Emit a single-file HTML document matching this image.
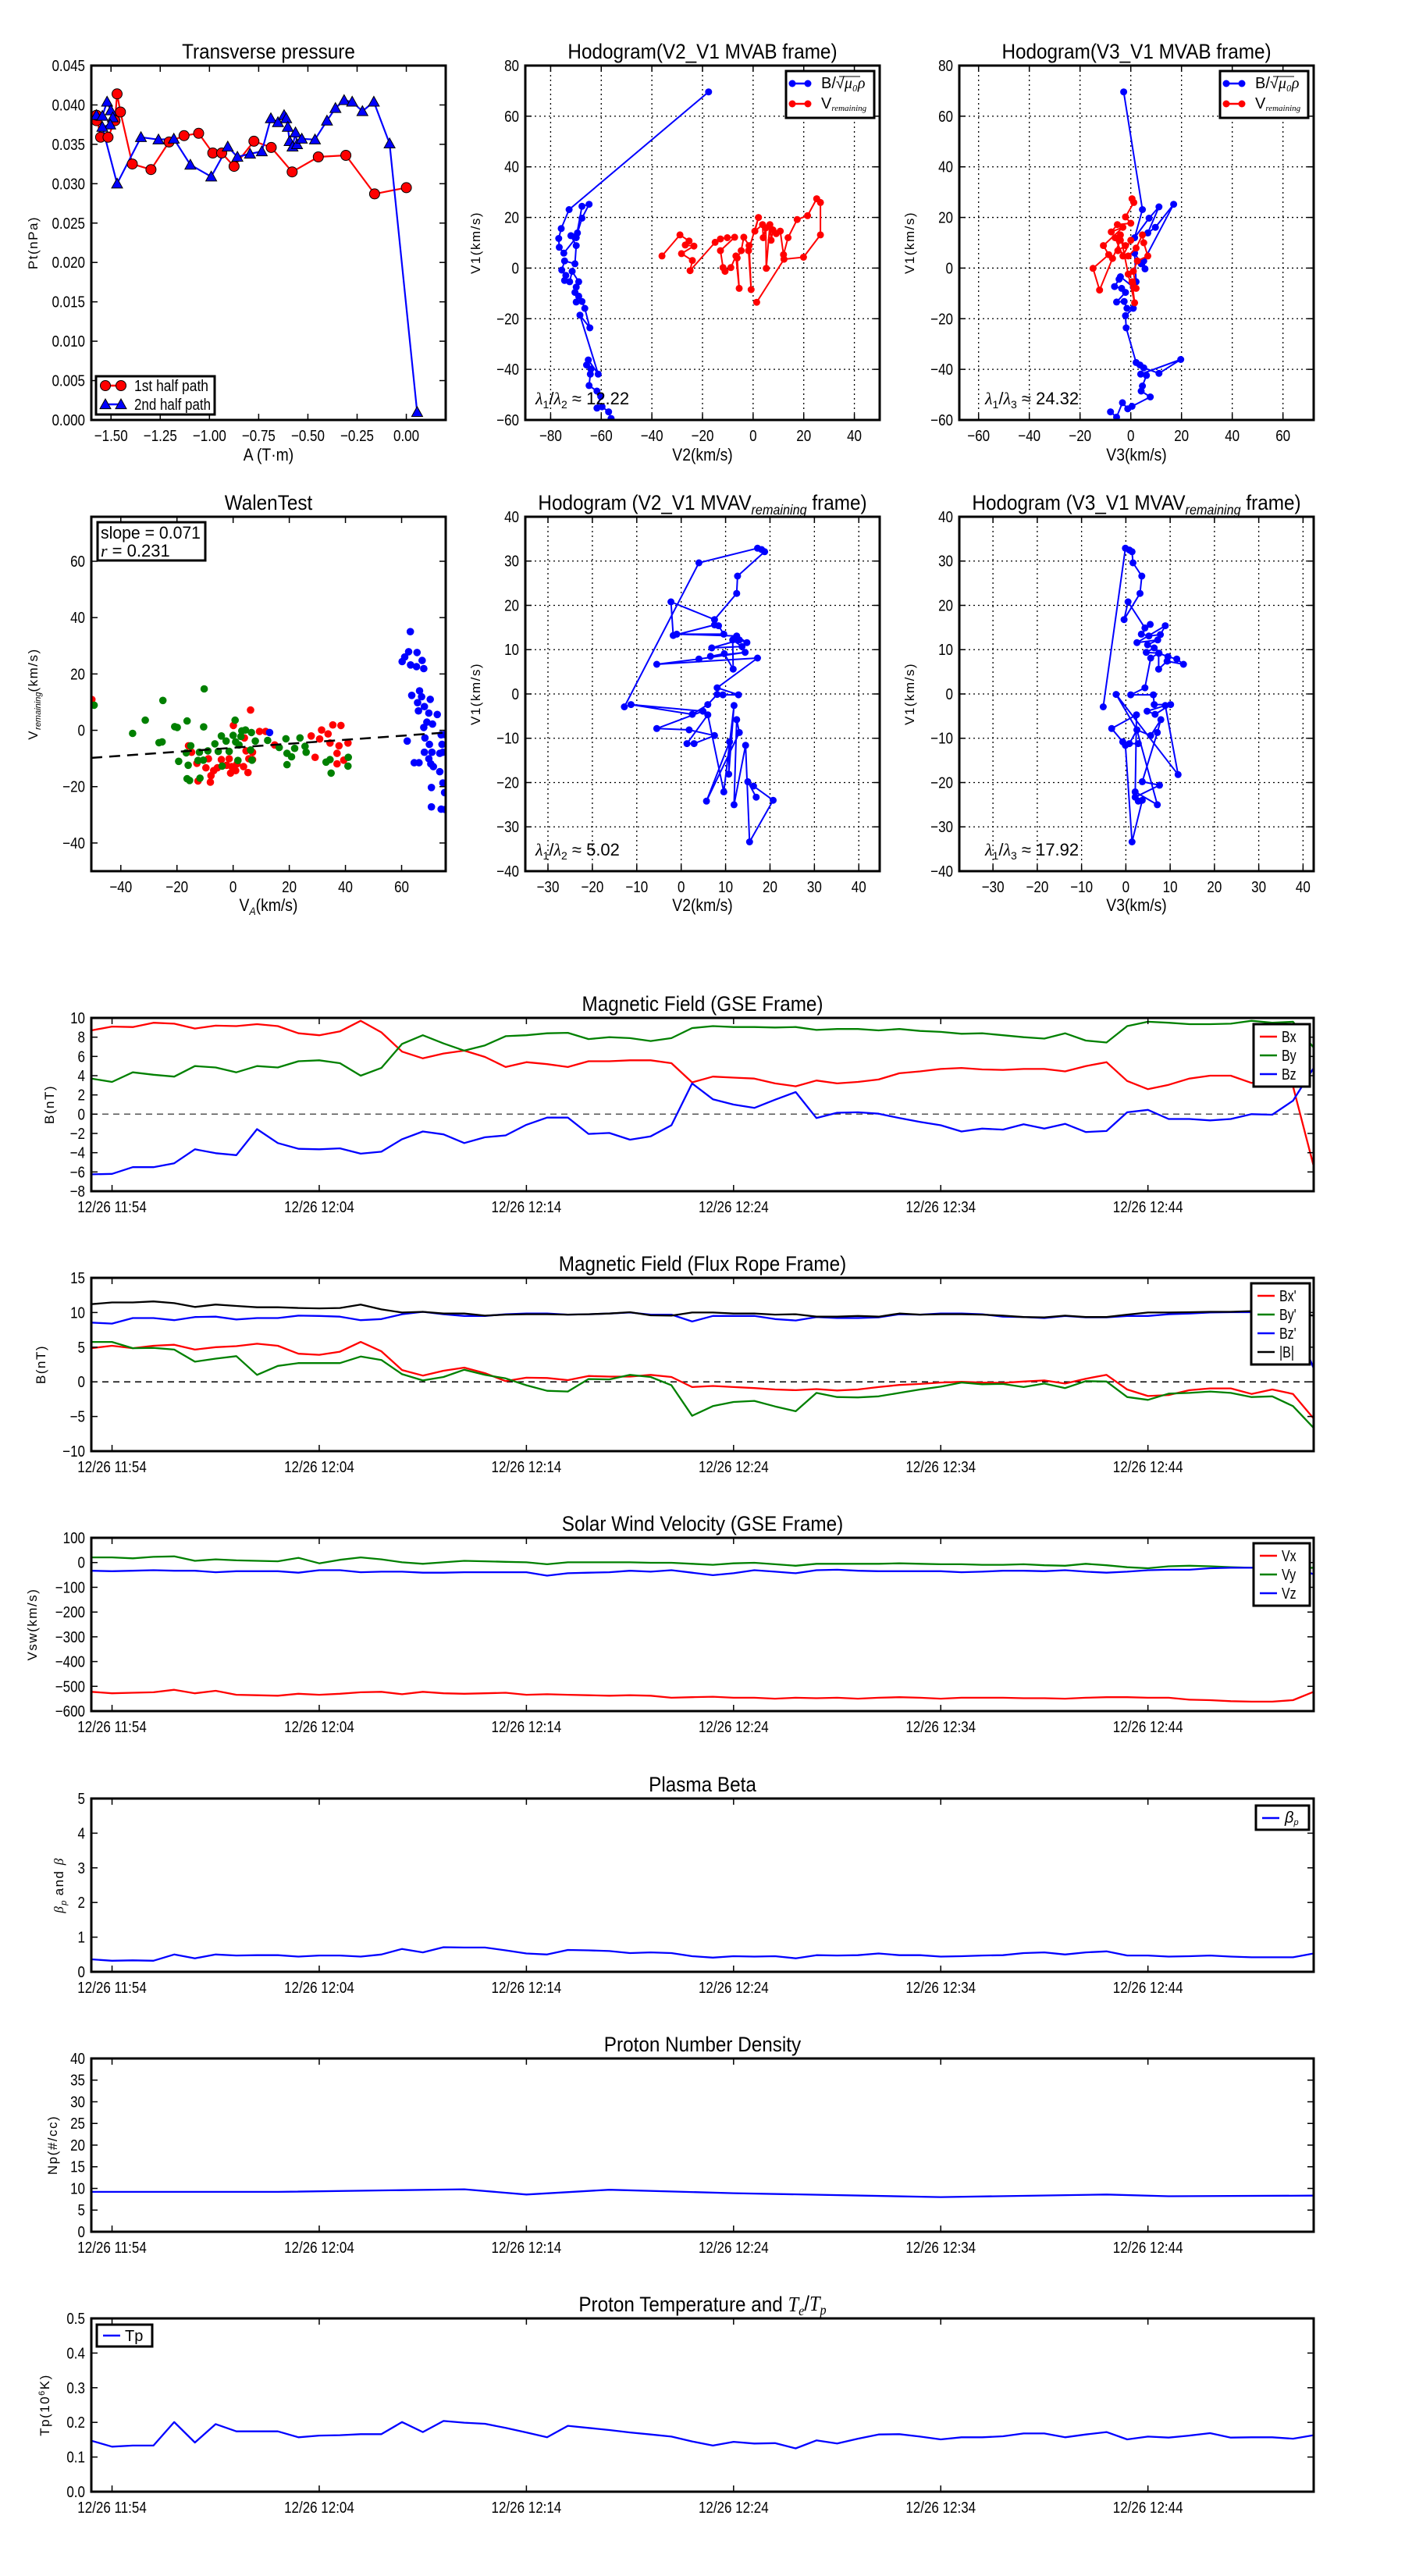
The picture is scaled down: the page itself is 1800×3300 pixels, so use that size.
<!DOCTYPE html>
<html><head><meta charset="utf-8">
<style>
html,body{margin:0;padding:0;background:#fff;}
svg{display:block;}
.tk{font-family:"Liberation Sans Narrow","Liberation Sans",sans-serif;font-size:20px;fill:#000;}
.tt{font-family:"Liberation Sans Narrow","Liberation Sans",sans-serif;font-size:27px;fill:#000;}
.yl{font-family:"Liberation Sans",sans-serif;font-size:17px;letter-spacing:1.5px;fill:#000;}
.xl{font-family:"Liberation Sans Narrow","Liberation Sans",sans-serif;font-size:22px;fill:#000;}
.lg{font-family:"Liberation Sans Narrow","Liberation Sans",sans-serif;font-size:20px;fill:#000;}
.an{font-family:"Liberation Sans","DejaVu Sans",sans-serif;font-size:22px;fill:#000;}
</style></head>
<body>
<svg id="fig" xmlns="http://www.w3.org/2000/svg" width="1800" height="3300" viewBox="0 0 1800 3300"></svg>
<script>
// ---------- Transverse pressure ----------
const ptRedA=[-1.574,-1.574,-1.553,-1.515,-1.480,-1.469,-1.452,-1.392,-1.297,-1.205,-1.129,-1.055,-0.983,-0.938,-0.875,-0.774,-0.686,-0.580,-0.447,-0.307,-0.161,0];
const ptRedP=[0.0380,0.0387,0.0359,0.0359,0.0380,0.0414,0.0391,0.0325,0.0318,0.0353,0.0361,0.0364,0.0339,0.0339,0.0322,0.0354,0.0346,0.0315,0.0334,0.0336,0.0287,0.0295];
const ptBlueA=[-1.574,-1.544,-1.520,-1.501,-1.491,-1.504,-1.544,-1.469,-1.348,-1.259,-1.181,-1.097,-0.991,-0.907,-0.858,-0.794,-0.734,-0.688,-0.652,-0.621,-0.610,-0.602,-0.593,-0.578,-0.563,-0.555,-0.531,-0.464,-0.403,-0.360,-0.316,-0.275,-0.223,-0.165,-0.085,0.055];
const ptBlueP=[0.0387,0.0386,0.0404,0.0393,0.0384,0.0375,0.0372,0.0300,0.0359,0.0356,0.0357,0.0324,0.0309,0.0347,0.0334,0.0338,0.0341,0.0383,0.0378,0.0387,0.0383,0.0372,0.0354,0.0347,0.0365,0.0350,0.0357,0.0356,0.0380,0.0396,0.0406,0.0404,0.0392,0.0404,0.0351,0.0010];
// ---------- Hodogram V2_V1 MVAB ----------
const h1BlueX=[-17.6,-72.7,-75.8,-76.8,-76.6,-74.8,-69.9,-67.6,-64.8,-67.6,-69.4,-72.0,-69.9,-70.4,-74.5,-75.6,-74.0,-74.5,-72.5,-71.5,-68.9,-69.9,-70.4,-68.9,-69.9,-67.6,-66.5,-64.5,-68.4,-61.2,-65.1,-65.8,-64.1,-64.3,-64.8,-61.7,-60.2,-61.7,-59.7,-57.1,-56.1];
const h1BlueY=[69.6,23.1,15.6,11.7,8.2,5.9,12.0,24.4,25.2,19.7,13.9,12.8,8.9,1.7,2.8,-0.8,-2.9,-4.9,-5.4,-1.3,-5.4,-7.5,-9.6,-11.1,-13.4,-13.2,-15.9,-23.6,-18.6,-41.9,-36.3,-38.3,-39.9,-41.9,-46.4,-48.6,-50.7,-55.3,-54.8,-56.8,-59.4];
const h1RedX=[-36.0,-28.9,-25.3,-26.8,-23.4,-28.3,-24.0,-24.9,-15.0,-12.9,-10.2,-7.3,-12.9,-11.9,-11.1,-8.8,-6.8,-5.5,-6.3,-4.7,-3.7,-1.6,-0.8,-1.8,2.1,0.7,3.7,4.0,5.0,5.2,6.6,7.1,7.8,9.1,10.7,12.0,13.8,17.4,21.5,25.1,26.6,26.6,19.9,12.2,1.4];
const h1RedY=[4.8,13.1,10.7,9.1,8.7,5.7,3.0,-1.0,10.2,11.5,12.0,12.2,6.9,0.2,-1.3,0.2,4.8,-8.0,4.0,6.9,12.2,8.9,-8.5,6.9,20.0,14.6,17.2,12.0,15.9,-0.1,17.2,11.0,15.1,13.6,14.6,5.3,12.0,19.2,20.7,27.4,25.9,13.1,4.3,3.5,-13.5];
// ---------- Hodogram V3_V1 MVAB ----------
const h2BlueX=[-2.8,4.6,1.5,7.2,11.1,6.7,9.7,16.9,5.1,5.6,4.1,1.5,2.1,1.0,-4.1,-4.6,-6.4,-3.6,-2.1,-5.6,-2.6,-1.5,1.0,-2.1,-1.8,2.1,3.6,5.1,11.1,19.7,3.9,6.2,4.6,4.1,7.7,0.5,-1.2,-3.3,-5.6,-8.0];
const h2BlueY=[69.6,23.1,12.0,19.7,24.2,13.9,16.1,25.2,2.8,-0.3,1.7,5.9,-5.4,-7.5,-3.4,-4.4,-7.3,-8.0,-9.6,-13.4,-13.2,-15.9,-15.9,-18.8,-23.6,-37.3,-38.3,-39.4,-41.6,-36.1,-41.9,-42.4,-46.6,-48.6,-50.9,-54.6,-55.6,-53.2,-58.9,-56.8];
const h2RedX=[0.5,1.2,-2.1,0,-5.3,-7.7,-3.1,-10.8,-8.7,-14.9,-12.3,-7.2,-4.1,-2.1,-5.1,-1.0,2.1,4.6,5.1,6.7,2.6,1.0,2.1,0.5,1.5,-1.0,-4.1,-6.2,-3.1,0];
const h2RedY=[27.4,25.9,20.2,17.7,17.2,14.3,16.1,8.9,5.3,-0.1,-8.7,3.8,11.0,8.9,6.9,4.8,7.9,13.1,10.0,4.8,2.8,-1.3,-8.0,-5.4,-13.7,-2.4,13.1,12.0,4.8,11.0];
// ---------- Walen test ----------
const wRedX=[-50.3,6.2,0.1,9.4,11.6,4.0,-15.9,-14.8,-12.9,-12.5,-9.7,-8.8,-7.9,-8.1,-6.9,-5.6,-4.2,-2.3,-1.4,-0.9,-0.5,0.9,1.4,3.7,5.3,4.6,6.9,5.6,6.9,14.8,27.8,29.2,30.8,31.5,33.8,34.5,35.5,37.0,37.7,37.0,38.4,39.4,40.9];
const wRedY=[10.9,7.2,1.7,-0.4,-0.4,-2.7,-5.5,-7.8,-11.7,-18.0,-13.3,-10.1,-16.1,-18.4,-14.3,-13.3,-10.4,-12.4,-10.1,-15.2,-12.9,-14.3,-11.9,-12.9,-15.0,-7.3,-7.8,-10.1,-10.4,-5.2,-2.0,-9.6,-3.1,0.1,-1.3,-4.5,1.9,-8.2,-5.5,-11.9,1.7,-10.6,-4.5];
const wGreenX=[-49.5,-35.8,-31.3,-25.0,-26.4,-25.3,-20.8,-19.9,-16.4,-10.3,-10.5,-19.4,-16.7,-15.1,-16.0,-16.4,-15.5,-11.8,-12.0,-12.5,-10.6,-9.0,-6.5,-5.3,-4.2,-3.9,-2.5,-1.4,0,0.7,0.9,1.7,3.1,4.4,2.8,2.1,6.5,6.2,6.7,7.9,12.3,16.4,18.8,19.2,20.8,19.2,21.9,23.8,25.6,26.0,33.1,34.5,34.9,41.0,40.9];
const wGreenY=[8.9,-1.1,3.6,10.6,-4.4,-4.1,1.3,1.0,3.3,14.7,1.2,-11.0,-8.0,-5.5,-12.4,-17.2,-17.8,-17.0,-7.8,-10.7,-10.6,-7.3,-4.8,-7.5,-2.0,-12.7,-3.8,-7.5,-1.8,3.6,-4.1,-10.7,-0.2,0.1,-2.2,-5.2,-0.8,-7.0,-10.6,-3.8,-3.6,-6.1,-3.0,-8.2,-9.4,-12.2,-6.4,-2.7,-5.7,-7.8,-11.3,-10.4,-15.2,-9.6,-12.7];
const wBlueX=[13.0,63.1,60.2,61.1,62.5,65.5,63.2,65.3,67.3,67.9,63.6,66.4,67.1,65.7,68.1,66.0,70.2,69.7,72.7,71.0,67.9,69.0,62.0,68.3,69.9,68.1,70.8,73.6,74.1,75.3,74.4,74.7,69.7,64.5,66.2,70.4,71.3,73.6,74.7,75.3,70.6,70.6,74.1,75.5];
const wBlueY=[-0.8,35.0,24.4,26.0,27.9,27.6,23.2,22.6,24.8,21.9,12.4,14.0,11.9,9.8,8.4,6.9,11.0,6.1,5.6,2.2,1.0,2.9,-3.8,-2.7,-5.0,-7.8,-7.8,-8.2,-1.6,-1.5,-5.0,-7.8,-10.1,-11.5,-11.5,-11.9,-12.9,-14.7,-18.7,-22.1,-20.3,-27.2,-28.0,-28.1];
const walenSlope=0.071, walenIntercept=-6.2;
// ---------- Hodogram MVAV ----------
const h3X=[-12.8,4.0,17.2,18.1,18.8,12.7,12.5,7.5,-2.3,-1.8,7.5,8.4,9.6,-1.0,12.5,14.8,13.1,6.9,13.7,11.6,11.7,9.7,6.6,14.4,4.0,-5.5,17.2,8.1,12.9,9.4,8.1,6.0,2.5,-11.3,4.9,-5.5,1.8,7.5,2.9,1.3,6.0,9.6,11.9,10.7,10.9,5.7,13.1,12.5,11.9,14.5,15.4,20.7,16.3,15.0,16.9];
const h3Y=[-2.9,29.6,32.9,32.6,32.1,26.6,22.7,16.8,20.8,13.2,15.6,15.4,13.5,13.5,13.1,11.6,12.2,10.4,10.7,12.2,5.6,9.1,8.5,9.4,7.9,6.7,8.1,1.4,-0.2,-0.2,-0.1,-2.4,-4.6,-2.4,-3.9,-7.8,-8.1,-9.4,-11.2,-11.2,-4.7,-22.1,-2.6,-18.1,-10.8,-24.2,-8.7,-5.8,-25.0,-11.6,-33.4,-24.0,-20.8,-19.8,-23.3];
const h4X=[-5.1,-0.1,0.8,1.4,1.6,3.6,3.2,-0.4,0.5,4.3,5.5,3.5,5.2,7.8,8.9,2.5,7.2,4.9,6.4,4.6,7.5,9.5,11.5,13.0,9.3,7.4,7.4,5.6,4.3,1.1,6.2,6.4,10.1,6.6,4.8,8.9,11.8,-2.2,2.5,5.6,7.9,7.1,3.7,7.6,2.1,2.4,-3.2,-0.7,-0.1,1.4,3.7,2.8,2.1,7.1,2.5,0.8,2.8];
const h4Y=[-2.9,32.9,32.5,32.1,29.6,26.6,22.7,16.8,20.8,14.9,15.7,13.5,13.1,13.4,15.4,11.6,12.2,11.1,10.4,9.4,9.2,8.4,7.9,6.7,7.4,5.6,9.2,8.1,1.4,-0.2,-0.2,-2.4,-2.4,-4.6,-3.9,-2.6,-18.2,-0.1,-8.1,-9.4,-5.8,-8.7,-19.8,-20.6,-23.3,-4.7,-7.8,-10.8,-11.6,-33.4,-24.0,-24.2,-22.1,-25.0,-8.1,-11.2,-11.2];
// ---------- Time series (minutes after 11:53) ----------
const timeTickMin=[1,11,21,31,41,51];
const timeTickLabels=["12/26 11:54","12/26 12:04","12/26 12:14","12/26 12:24","12/26 12:34","12/26 12:44"];
const gseBx=[8.7,9.1,9.05,9.5,9.4,8.9,9.2,9.15,9.35,9.15,8.4,8.2,8.6,9.7,8.5,6.5,5.8,6.3,6.6,5.95,4.9,5.4,5.2,4.9,5.5,5.5,5.6,5.6,5.3,3.3,3.9,3.8,3.7,3.2,2.9,3.5,3.2,3.35,3.6,4.25,4.45,4.7,4.8,4.65,4.6,4.7,4.7,4.45,5.0,5.4,3.45,2.6,3.05,3.7,4.0,4.0,3.25,3.6,2.9,-5.4];
const gseBy=[3.7,3.35,4.35,4.1,3.9,5.0,4.85,4.35,5.0,4.85,5.5,5.6,5.3,4.0,4.8,7.3,8.2,7.35,6.6,7.15,8.1,8.2,8.4,8.45,7.8,8.0,7.9,7.6,7.9,8.95,9.15,9.05,9.05,9.0,9.05,8.75,8.85,8.85,8.7,8.85,8.65,8.55,8.35,8.4,8.2,8.0,7.85,8.4,7.65,7.45,9.15,9.6,9.5,9.35,9.35,9.4,9.7,9.5,9.6,6.9];
const gseBz=[-6.25,-6.2,-5.5,-5.5,-5.1,-3.65,-4.05,-4.25,-1.55,-3.0,-3.6,-3.65,-3.55,-4.1,-3.9,-2.6,-1.8,-2.1,-3.0,-2.4,-2.2,-1.1,-0.35,-0.35,-2.05,-1.95,-2.65,-2.3,-1.15,3.2,1.55,1.0,0.65,1.5,2.3,-0.4,0.15,0.2,0.05,-0.4,-0.8,-1.15,-1.8,-1.5,-1.6,-1.05,-1.5,-1.0,-1.85,-1.75,0.2,0.45,-0.5,-0.5,-0.65,-0.5,0,-0.05,1.4,4.8];
const frBx=[4.85,5.2,4.85,5.2,5.35,4.65,5.0,5.15,5.5,5.2,4.05,3.9,4.35,5.75,4.4,1.7,0.9,1.6,2.05,1.25,0.1,0.6,0.55,0.25,0.85,0.75,0.75,1.0,0.7,-0.75,-0.6,-0.75,-0.9,-1.1,-1.2,-1.05,-1.25,-1.1,-0.75,-0.45,-0.3,-0.1,0,-0.1,-0.15,0.05,0.2,-0.25,0.45,1.0,-1.1,-2.05,-1.9,-1.2,-0.95,-0.95,-1.75,-1.1,-1.75,-5.3];
const frBy=[5.75,5.75,4.85,4.9,4.65,2.9,3.35,3.7,1.0,2.3,2.7,2.7,2.7,3.65,3.15,1.1,0.2,0.7,1.75,1.0,0.5,-0.5,-1.3,-1.4,0.4,0.35,1.0,0.7,-0.5,-4.9,-3.5,-2.9,-2.75,-3.55,-4.25,-1.6,-2.2,-2.25,-2.1,-1.6,-1.1,-0.7,-0.1,-0.35,-0.3,-0.75,-0.25,-0.9,0.1,0.05,-2.2,-2.6,-1.7,-1.6,-1.4,-1.6,-2.2,-2.1,-3.5,-6.65];
const frBz=[8.55,8.4,9.2,9.2,8.9,9.35,9.4,9.0,9.2,9.2,9.55,9.5,9.4,8.9,9.05,9.75,10.1,9.75,9.5,9.5,9.75,9.85,9.85,9.7,9.75,9.85,10.0,9.7,9.7,8.7,9.5,9.5,9.5,9.05,8.85,9.35,9.2,9.2,9.3,9.75,9.7,9.85,9.85,9.75,9.4,9.35,9.2,9.5,9.3,9.3,9.5,9.5,9.75,9.85,10.0,10.05,10.05,9.85,9.1,1.95];
const frBt=[11.2,11.45,11.45,11.6,11.35,10.8,11.15,10.95,10.75,10.75,10.65,10.6,10.65,11.15,10.45,10.0,10.1,9.85,9.85,9.55,9.7,9.75,9.75,9.7,9.75,9.85,10.05,9.6,9.55,10.0,10.0,9.85,9.85,9.7,9.75,9.4,9.4,9.5,9.4,9.85,9.7,9.75,9.75,9.7,9.55,9.35,9.3,9.55,9.35,9.35,9.7,10.0,10.0,10.05,10.1,10.1,10.2,10.1,9.85,9.55];
const vx=[-522,-528,-526,-524,-514,-528,-518,-534,-536,-538,-530,-534,-530,-524,-522,-532,-522,-528,-530,-528,-526,-534,-532,-534,-536,-538,-536,-538,-546,-544,-542,-546,-546,-550,-546,-548,-546,-550,-546,-544,-546,-550,-546,-546,-546,-548,-548,-550,-546,-544,-544,-546,-546,-554,-556,-560,-562,-562,-556,-522];
const vy=[21,21,17,23,25,7,13,9,7,5,19,-3,11,21,13,1,-5,1,7,5,3,1,-7,1,1,1,1,-1,-1,-5,-9,-3,-1,-7,-13,-5,-5,-5,-5,-3,-5,-7,-7,-9,-9,-7,-11,-13,-5,-11,-19,-23,-15,-13,-15,-19,-21,-21,-23,-21];
const vz=[-33,-35,-33,-31,-33,-33,-39,-35,-35,-35,-41,-31,-31,-39,-37,-37,-41,-41,-39,-39,-39,-39,-53,-43,-41,-39,-33,-37,-31,-41,-51,-43,-31,-37,-43,-31,-29,-33,-35,-35,-35,-35,-39,-37,-33,-33,-35,-31,-37,-41,-37,-31,-29,-29,-23,-21,-21,-21,-21,-47];
const betaP=[0.36,0.32,0.33,0.32,0.50,0.39,0.50,0.47,0.48,0.48,0.44,0.47,0.47,0.44,0.50,0.66,0.56,0.71,0.70,0.70,0.62,0.53,0.50,0.63,0.62,0.60,0.54,0.56,0.54,0.45,0.41,0.45,0.44,0.45,0.39,0.48,0.47,0.48,0.53,0.48,0.48,0.44,0.45,0.47,0.48,0.54,0.56,0.50,0.56,0.59,0.47,0.47,0.44,0.45,0.47,0.44,0.42,0.42,0.42,0.53];
const npMin=[0,9,18,21,25,31,41,49,52,59];
const npVal=[9.2,9.2,9.8,8.6,9.7,8.9,8.0,8.6,8.2,8.35];
const tp=[0.147,0.130,0.133,0.133,0.201,0.142,0.195,0.174,0.174,0.174,0.157,0.162,0.163,0.166,0.166,0.201,0.172,0.204,0.199,0.196,0.184,0.171,0.157,0.190,0.184,0.178,0.171,0.165,0.159,0.145,0.133,0.144,0.139,0.140,0.125,0.148,0.139,0.153,0.165,0.166,0.159,0.151,0.157,0.157,0.160,0.168,0.168,0.157,0.165,0.172,0.151,0.159,0.156,0.162,0.169,0.156,0.157,0.157,0.153,0.163];

const NS='http://www.w3.org/2000/svg';
const svg=document.getElementById('fig');
let clipN=0;
function mk(tag,parent){const e=document.createElementNS(NS,tag);parent.appendChild(e);return e;}
function txt(parent,x,y,s,cls,anchor){const t=mk('text',parent);t.setAttribute('x',x);t.setAttribute('y',y);t.setAttribute('class',cls);t.setAttribute('text-anchor',anchor||'middle');t.textContent=s;return t;}
function fmt(v,d){const s=Math.abs(v).toFixed(d);return (v<-1e-12?'\u2212':'')+s;}
function range(a,b,st){const r=[];for(let v=a;v<=b+st*1e-6;v+=st)r.push(+v.toFixed(6));return r;}
function squeeze(t,sx){ // horizontal condense around its x anchor
  const x=+t.getAttribute('x');t.setAttribute('transform','translate('+x+',0) scale('+sx+',1) translate('+(-x)+',0)');
}

function axes(o){
  const g=mk('g',svg);
  
  
  const sx=v=>o.x+(v-o.xmin)/(o.xmax-o.xmin)*o.w;
  const sy=v=>o.y+o.h-(v-o.ymin)/(o.ymax-o.ymin)*o.h;
  const id='c'+(clipN++);
  const cp=mk('clipPath',g);cp.setAttribute('id',id);
  const cr=mk('rect',cp);cr.setAttribute('x',o.x);cr.setAttribute('y',o.y);cr.setAttribute('width',o.w);cr.setAttribute('height',o.h);
  const xt=o.xticks||[], yt=o.yticks||[];
  if(o.grid){
    xt.forEach(v=>{const l=mk('line',g);l.setAttribute('x1',sx(v));l.setAttribute('x2',sx(v));l.setAttribute('y1',o.y);l.setAttribute('y2',o.y+o.h);l.setAttribute('stroke','#000');l.setAttribute('stroke-width','1.3');l.setAttribute('stroke-dasharray','2,4');});
    yt.forEach(v=>{const l=mk('line',g);l.setAttribute('y1',sy(v));l.setAttribute('y2',sy(v));l.setAttribute('x1',o.x);l.setAttribute('x2',o.x+o.w);l.setAttribute('stroke','#000');l.setAttribute('stroke-width','1.3');l.setAttribute('stroke-dasharray','2,4');});
  }
  const data=mk('g',g);data.setAttribute('clip-path','url(#'+id+')');
  
  
  xt.forEach((v,i)=>{
    [[o.y+o.h,o.y+o.h-8],[o.y,o.y+8]].forEach(p=>{const l=mk('line',g);l.setAttribute('x1',sx(v));l.setAttribute('x2',sx(v));l.setAttribute('y1',p[0]);l.setAttribute('y2',p[1]);l.setAttribute('stroke','#000');l.setAttribute('stroke-width','1.5');});
    const t=txt(g,sx(v),o.y+o.h+27,o.xlab[i],'tk');
    
    
    squeeze(t,0.85);
  });
  yt.forEach((v,i)=>{
    [[o.x,o.x+8],[o.x+o.w,o.x+o.w-8]].forEach(p=>{const l=mk('line',g);l.setAttribute('y1',sy(v));l.setAttribute('y2',sy(v));l.setAttribute('x1',p[0]);l.setAttribute('x2',p[1]);l.setAttribute('stroke','#000');l.setAttribute('stroke-width','1.5');});
    const t=txt(g,o.x-8,sy(v)+7,o.ylab[i],'tk','end');
    
    
    squeeze(t,0.85);
  });
  const fr=mk('rect',g);fr.setAttribute('x',o.x);fr.setAttribute('y',o.y);fr.setAttribute('width',o.w);fr.setAttribute('height',o.h);fr.setAttribute('fill','none');fr.setAttribute('stroke','#000');fr.setAttribute('stroke-width','3');
  return {g,data,sx,sy,o};
}
function title(ax,parts){
  const t=mk('text',ax.g);t.setAttribute('x',ax.o.x+ax.o.w/2);t.setAttribute('y',ax.o.y-9);t.setAttribute('class','tt');t.setAttribute('text-anchor','middle');
  
  
  parts.forEach(p=>{const s=mk('tspan',t);s.textContent=p[0];if(p[1]==='sub'){s.setAttribute('font-style','italic');s.setAttribute('font-size','18');s.setAttribute('dy','6');}else if(p[1]==='it'){s.setAttribute('font-style','italic');s.setAttribute('font-family','Liberation Serif, serif');}else if(p[1]==='back'){s.setAttribute('dy','-6');}else if(p[1]==='itsub'){s.setAttribute('font-style','italic');s.setAttribute('font-size','18');s.setAttribute('dy','5');s.setAttribute('font-family','Liberation Serif, serif');}else if(p[1]==='itback'){s.setAttribute('font-style','italic');s.setAttribute('dy','-5');s.setAttribute('font-family','Liberation Serif, serif');}});
  squeeze(t,0.9);
  return t;
}
function ylabel(ax,x,parts){
  const cy=ax.o.y+ax.o.h/2;
  const t=mk('text',ax.g);t.setAttribute('transform','translate('+x+','+cy+') rotate(-90)');t.setAttribute('class','yl');t.setAttribute('text-anchor','middle');t.setAttribute('x',0);t.setAttribute('y',6);
  
  
  parts.forEach(p=>{const s=mk('tspan',t);s.textContent=p[0];if(p[1]==='sub'){s.setAttribute('font-style','italic');s.setAttribute('font-size','11');s.setAttribute('dy','4');s.setAttribute('letter-spacing','0');}else if(p[1]==='back'){s.setAttribute('dy','-4');}else if(p[1]==='sup'){s.setAttribute('font-size','11');s.setAttribute('dy','-6');}else if(p[1]==='down'){s.setAttribute('dy','6');}else if(p[1]==='it'){s.setAttribute('font-style','italic');s.setAttribute('font-family','Liberation Serif, serif');}});
}
function xlabel(ax,y,parts){
  const t=mk('text',ax.g);t.setAttribute('x',ax.o.x+ax.o.w/2);t.setAttribute('y',y);t.setAttribute('class','xl');t.setAttribute('text-anchor','middle');
  
  
  parts.forEach(p=>{const s=mk('tspan',t);s.textContent=p[0];if(p[1]==='sub'){s.setAttribute('font-style','italic');s.setAttribute('font-size','14');s.setAttribute('dy','5');}else if(p[1]==='back'){s.setAttribute('dy','-5');}});
  squeeze(t,0.88);
}
function polyline(ax,xs,ys,color,w,name){
  const p=mk('polyline',ax.data);
  p.setAttribute('points',xs.map((v,i)=>ax.sx(v).toFixed(1)+','+ax.sy(ys[i]).toFixed(1)).join(' '));
  p.setAttribute('fill','none');p.setAttribute('stroke',color);p.setAttribute('stroke-width',w);p.setAttribute('stroke-linejoin','round');
  
  
  return p;
}
function dots(ax,xs,ys,color,r,name,stroke){
  xs.forEach((v,i)=>{
    const c=mk('circle',ax.data);c.setAttribute('cx',ax.sx(v).toFixed(1));c.setAttribute('cy',ax.sy(ys[i]).toFixed(1));c.setAttribute('r',r);c.setAttribute('fill',color);
    if(stroke){c.setAttribute('stroke','#000');c.setAttribute('stroke-width','1');}
    
    
  });
}
function tris(ax,xs,ys,color,s,name){
  xs.forEach((v,i)=>{
    const X=ax.sx(v),Y=ax.sy(ys[i]);
    const p=mk('polygon',ax.data);p.setAttribute('points',X+','+(Y-s)+' '+(X-s)+','+(Y+s*0.8)+' '+(X+s)+','+(Y+s*0.8));
    p.setAttribute('fill',color);p.setAttribute('stroke','#000');p.setAttribute('stroke-width','1');
    
    
  });
}
function box(parent,x,y,w,h,name){
  const r=mk('rect',parent);r.setAttribute('x',x);r.setAttribute('y',y);r.setAttribute('width',w);r.setAttribute('height',h);r.setAttribute('fill','#fff');r.setAttribute('stroke','#000');r.setAttribute('stroke-width','3');
  
  
}
function legLine(parent,x,y,len,color,mark){
  const l=mk('line',parent);l.setAttribute('x1',x);l.setAttribute('x2',x+len);l.setAttribute('y1',y);l.setAttribute('y2',y);l.setAttribute('stroke',color);l.setAttribute('stroke-width','2.5');
  
  
  if(mark==='dot'){[x,x+len].forEach(cx=>{const c=mk('circle',parent);c.setAttribute('cx',cx);c.setAttribute('cy',y);c.setAttribute('r',4.5);c.setAttribute('fill',color);});}
  if(mark==='bigdot'){[x,x+len].forEach(cx=>{const c=mk('circle',parent);c.setAttribute('cx',cx);c.setAttribute('cy',y);c.setAttribute('r',6.5);c.setAttribute('fill',color);c.setAttribute('stroke','#000');});}
  if(mark==='tri'){[x,x+len].forEach(cx=>{const p=mk('polygon',parent);p.setAttribute('points',cx+','+(y-7)+' '+(cx-7)+','+(y+5.6)+' '+(cx+7)+','+(y+5.6));p.setAttribute('fill',color);p.setAttribute('stroke','#000');});}
}
const R='#ff0000',G='#008000',B='#0000ff';

// ===== Panel 1: Transverse pressure =====
let ax=axes({name:'transverse-pressure-chart',x:117,y:84,w:454,h:454,xmin:-1.6,xmax:0.2,ymin:0,ymax:0.045,
  xticks:range(-1.5,0,0.25),xlab:range(-1.5,0,0.25).map(v=>fmt(v,2)),yticks:range(0,0.045,0.005),ylab:range(0,0.045,0.005).map(v=>fmt(v,3))});
title(ax,[['Transverse pressure']]);
ylabel(ax,42,[['Pt(nPa)']]);
xlabel(ax,590,[['A (T\u00b7m)']]);
polyline(ax,ptRedA,ptRedP,R,2.2,'first-half-path-line');
polyline(ax,ptBlueA,ptBlueP,B,2.2,'second-half-path-line');
dots(ax,ptRedA,ptRedP,R,6.5,'first-half-point',true);
tris(ax,ptBlueA,ptBlueP,B,7,'second-half-point');
box(ax.g,123,482,152,49,'legend');
legLine(ax.g,135,494,20,R,'bigdot');
{const t=txt(ax.g,172,501,'1st half path','lg','start');t.setAttribute('textLength','95');t.setAttribute('lengthAdjust','spacingAndGlyphs');}
legLine(ax.g,135,518,20,B,'tri');
{const t=txt(ax.g,172,525,'2nd half path','lg','start');t.setAttribute('textLength','98');t.setAttribute('lengthAdjust','spacingAndGlyphs');}

// hodogram legend helper
function hodoLegend(a,x){
  box(a.g,x,91,113,60,'legend');
  legLine(a.g,x+8,107,20,B,'dot');
  const t1=mk('text',a.g);t1.setAttribute('x',x+45);t1.setAttribute('y',113);t1.setAttribute('class','lg');t1.setAttribute('font-size','17');t1.textContent='B/\u221a';
  const t1b=mk('tspan',t1);t1b.setAttribute('font-style','italic');t1b.setAttribute('font-family','Liberation Serif, serif');t1b.textContent='\u03bc\u2080\u03c1';
  const ol=mk('line',a.g);ol.setAttribute('x1',x+68);ol.setAttribute('x2',x+95);ol.setAttribute('y1',98);ol.setAttribute('y2',98);ol.setAttribute('stroke','#000');ol.setAttribute('stroke-width','1');
  legLine(a.g,x+8,133,20,R,'dot');
  const t2=mk('text',a.g);t2.setAttribute('x',x+45);t2.setAttribute('y',139);t2.setAttribute('class','lg');t2.setAttribute('font-size','17');t2.textContent='V';
  const t2b=mk('tspan',t2);t2b.setAttribute('font-style','italic');t2b.setAttribute('font-size','11');t2b.setAttribute('dy','3');t2b.setAttribute('font-family','Liberation Serif, serif');t2b.textContent='remaining';
}
function lambda(a,x,y,sub,val){
  const t=mk('text',a.g);t.setAttribute('x',x);t.setAttribute('y',y);t.setAttribute('class','an');
  
  
  const a1=mk('tspan',t);a1.setAttribute('font-style','italic');a1.setAttribute('font-family','Liberation Serif, serif');a1.textContent='\u03bb';
  const a2=mk('tspan',t);a2.setAttribute('font-size','14');a2.setAttribute('dy','5');a2.textContent='1';
  const a3=mk('tspan',t);a3.setAttribute('dy','-5');a3.textContent='/';
  const a4=mk('tspan',t);a4.setAttribute('font-style','italic');a4.setAttribute('font-family','Liberation Serif, serif');a4.textContent='\u03bb';
  const a5=mk('tspan',t);a5.setAttribute('font-size','14');a5.setAttribute('dy','5');a5.textContent=sub;
  const a6=mk('tspan',t);a6.setAttribute('dy','-5');a6.textContent=' \u2248 '+val;
}

// ===== Panel 2 =====
ax=axes({name:'hodogram-v2-v1-mvab',x:673,y:84,w:454,h:454,xmin:-90,xmax:50,ymin:-60,ymax:80,grid:true,
  xticks:range(-80,40,20),xlab:range(-80,40,20).map(v=>fmt(v,0)),yticks:range(-60,80,20),ylab:range(-60,80,20).map(v=>fmt(v,0))});
title(ax,[['Hodogram(V2_V1 MVAB frame)']]);
ylabel(ax,609,[['V1(km/s)']]);
xlabel(ax,590,[['V2(km/s)']]);
polyline(ax,h1BlueX,h1BlueY,B,2,'b-field-hodogram-line');dots(ax,h1BlueX,h1BlueY,B,4.5,'b-field-point');
polyline(ax,h1RedX,h1RedY,R,2,'v-remaining-hodogram-line');dots(ax,h1RedX,h1RedY,R,4.5,'v-remaining-point');
hodoLegend(ax,1007);
lambda(ax,686,518,'2','12.22');

// ===== Panel 3 =====
ax=axes({name:'hodogram-v3-v1-mvab',x:1229,y:84,w:454,h:454,xmin:-67.6,xmax:72.1,ymin:-60,ymax:80,grid:true,
  xticks:range(-60,60,20),xlab:range(-60,60,20).map(v=>fmt(v,0)),yticks:range(-60,80,20),ylab:range(-60,80,20).map(v=>fmt(v,0))});
title(ax,[['Hodogram(V3_V1 MVAB frame)']]);
ylabel(ax,1165,[['V1(km/s)']]);
xlabel(ax,590,[['V3(km/s)']]);
polyline(ax,h2BlueX,h2BlueY,B,2,'b-field-hodogram-line');dots(ax,h2BlueX,h2BlueY,B,4.5,'b-field-point');
polyline(ax,h2RedX,h2RedY,R,2,'v-remaining-hodogram-line');dots(ax,h2RedX,h2RedY,R,4.5,'v-remaining-point');
hodoLegend(ax,1563);
lambda(ax,1262,518,'3','24.32');

// ===== Walen =====
ax=axes({name:'walen-test-chart',x:117,y:662,w:454,h:454,xmin:-50.5,xmax:75.7,ymin:-50,ymax:75.8,
  xticks:range(-40,60,20),xlab:range(-40,60,20).map(v=>fmt(v,0)),yticks:range(-40,60,20),ylab:range(-40,60,20).map(v=>fmt(v,0))});
title(ax,[['WalenTest']]);
ylabel(ax,42,[['V'],['remaining','sub'],['(km/s)','back']]);
xlabel(ax,1167,[['V'],['A','sub'],['(km/s)','back']]);
dots(ax,wRedX,wRedY,R,4.8,'walen-red-point');
dots(ax,wGreenX,wGreenY,G,4.8,'walen-green-point');
dots(ax,wBlueX,wBlueY,B,4.8,'walen-blue-point');
{const xs=[-50.5,75.7];const ys=xs.map(v=>walenSlope*v+walenIntercept);const p=polyline(ax,xs,ys,'#000',2.5,'walen-fit-line');p.setAttribute('stroke-dasharray','14,9');}
box(ax.g,125,669,138,49,'walen-stats-box');
{const t=txt(ax.g,129,690,'slope = 0.071','an','start');t.setAttribute('textLength','128');t.setAttribute('lengthAdjust','spacingAndGlyphs');}
{const t=mk('text',ax.g);t.setAttribute('x',129);t.setAttribute('y',713);t.setAttribute('class','an');const a=mk('tspan',t);a.setAttribute('font-style','italic');a.setAttribute('font-family','Liberation Serif, serif');a.textContent='r';const b=mk('tspan',t);b.textContent=' = 0.231';}

// ===== Hodogram MVAV V2 =====
ax=axes({name:'hodogram-v2-v1-mvav',x:673,y:662,w:454,h:454,xmin:-35.1,xmax:44.7,ymin:-40,ymax:40,grid:true,
  xticks:range(-30,40,10),xlab:range(-30,40,10).map(v=>fmt(v,0)),yticks:range(-40,40,10),ylab:range(-40,40,10).map(v=>fmt(v,0))});
title(ax,[['Hodogram (V2_V1 MVAV'],['remaining','sub'],[' frame)','back']]);
ylabel(ax,609,[['V1(km/s)']]);
xlabel(ax,1167,[['V2(km/s)']]);
polyline(ax,h3X,h3Y,B,2,'hodogram-line');dots(ax,h3X,h3Y,B,4.5,'hodogram-point');
lambda(ax,686,1096,'2','5.02');

// ===== Hodogram MVAV V3 =====
ax=axes({name:'hodogram-v3-v1-mvav',x:1229,y:662,w:454,h:454,xmin:-37.6,xmax:42.4,ymin:-40,ymax:40,grid:true,
  xticks:range(-30,40,10),xlab:range(-30,40,10).map(v=>fmt(v,0)),yticks:range(-40,40,10),ylab:range(-40,40,10).map(v=>fmt(v,0))});
title(ax,[['Hodogram (V3_V1 MVAV'],['remaining','sub'],[' frame)','back']]);
ylabel(ax,1165,[['V1(km/s)']]);
xlabel(ax,1167,[['V3(km/s)']]);
polyline(ax,h4X,h4Y,B,2,'hodogram-line');dots(ax,h4X,h4Y,B,4.5,'hodogram-point');
lambda(ax,1262,1096,'3','17.92');

// ===== Time series =====
const minutes=gseBx.map((_,i)=>i);
function tsAxes(name,y,ymin,ymax,yt,dec){
  return axes({name:name,x:117,y:y,w:1566,h:222,xmin:0,xmax:59,ymin:ymin,ymax:ymax,
    xticks:timeTickMin,xlab:timeTickLabels,yticks:yt,ylab:yt.map(v=>fmt(v,dec))});
}
function zeroLine(a,color){const p=polyline(a,[0,59],[0,0],color,1.5,'zero-line');p.setAttribute('stroke-dasharray','8,6');}
function tsLegend(a,x,y,w,items){
  box(a.g,x,y,w,items.length*24+8,'legend');
  items.forEach((it,i)=>{const yy=y+16+i*24;legLine(a.g,x+8,yy,22,it[1]);const t=txt(a.g,x+36,yy+7,it[0],'lg','start');t.setAttribute('font-size','18');squeeze(t,0.8);});
}
// GSE
ax=tsAxes('magnetic-field-gse-chart',1304,-8,10,range(-8,10,2),0);
title(ax,[['Magnetic Field (GSE Frame)']]);
ylabel(ax,63,[['B(nT)']]);
zeroLine(ax,'#555');
polyline(ax,minutes,gseBx,R,2.3,'bx-line');
polyline(ax,minutes,gseBy,G,2.3,'by-line');
polyline(ax,minutes,gseBz,B,2.3,'bz-line');
tsLegend(ax,1606,1312,72,[['Bx',R],['By',G],['Bz',B]]);
// Flux rope
ax=tsAxes('magnetic-field-flux-rope-chart',1637,-10,15,range(-10,15,5),0);
title(ax,[['Magnetic Field (Flux Rope Frame)']]);
ylabel(ax,52,[['B(nT)']]);
zeroLine(ax,'#000');
polyline(ax,minutes,frBx,R,2.3,'bx-prime-line');
polyline(ax,minutes,frBy,G,2.3,'by-prime-line');
polyline(ax,minutes,frBz,B,2.3,'bz-prime-line');
polyline(ax,minutes,frBt,'#000',2.3,'b-magnitude-line');
tsLegend(ax,1603,1644,75,[["Bx'",R],["By'",G],["Bz'",B],['|B|','#000']]);
// Velocity
ax=tsAxes('solar-wind-velocity-chart',1970,-600,100,range(-600,100,100),0);
title(ax,[['Solar Wind Velocity (GSE Frame)']]);
ylabel(ax,41,[['Vsw(km/s)']]);
polyline(ax,minutes,vx,R,2.3,'vx-line');
polyline(ax,minutes,vy,G,2.3,'vy-line');
polyline(ax,minutes,vz,B,2.3,'vz-line');
tsLegend(ax,1606,1977,72,[['Vx',R],['Vy',G],['Vz',B]]);
// Beta
ax=tsAxes('plasma-beta-chart',2304,0,5,range(0,5,1),0);
title(ax,[['Plasma Beta']]);
ylabel(ax,75,[['\u03b2','it'],['p','sub'],[' and ','back'],['\u03b2','it']]);
polyline(ax,minutes,betaP,B,2.3,'beta-p-line');
box(ax.g,1609,2313,68,31,'legend');legLine(ax.g,1617,2329,22,B);
{const t=txt(ax.g,1646,2335,'\u03b2','lg','start');t.setAttribute('font-style','italic');t.setAttribute('font-size','16');const s=mk('tspan',t);s.setAttribute('font-size','11');s.setAttribute('dy','3');s.textContent='p';}
// Np
ax=tsAxes('proton-density-chart',2637,0,40,range(0,40,5),0);
title(ax,[['Proton Number Density']]);
ylabel(ax,67,[['Np(#/cc)']]);
polyline(ax,npMin,npVal,B,2.3,'np-line');
// Tp
ax=tsAxes('proton-temperature-chart',2970,0,0.5,range(0,0.5,0.1),1);
title(ax,[['Proton Temperature and '],['T','it'],['e','itsub'],['/','back'],['T','it'],['p','itsub']]);
ylabel(ax,57,[['Tp(10'],['6','sup'],['K)','down']]);
polyline(ax,minutes,tp,B,2.3,'tp-line');
box(ax.g,124,2978,71,28,'legend');legLine(ax.g,132,2992,22,B);txt(ax.g,160,2999,'Tp','lg','start');
</script>
</body></html>
